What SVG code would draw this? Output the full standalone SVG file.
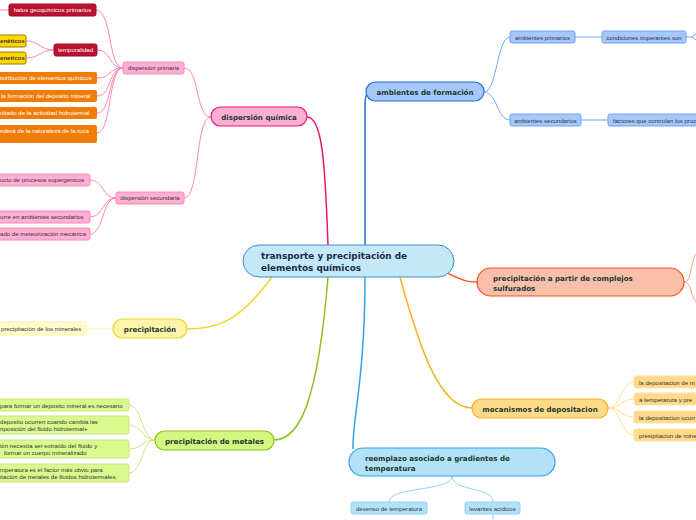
<svg xmlns="http://www.w3.org/2000/svg" width="696" height="520" viewBox="0 0 696 520">
<style>
.main{font-family:"DejaVu Sans",sans-serif;font-weight:bold;font-size:7.1px;fill:#173a2e;}
.cen{font-family:"DejaVu Sans",sans-serif;font-weight:bold;font-size:8.9px;fill:#1b2b4b;}
.s{font-family:"Liberation Sans",Arial,sans-serif;font-size:6.1px;fill:#333;}
.w{font-family:"Liberation Sans",Arial,sans-serif;font-size:6.1px;fill:#fff;}
</style>
<rect width="696" height="520" fill="#fff"/>
<g id="connectors" fill="none">
  <path d="M328,245 C325,160 322,117 307,117" stroke="#e8176e" stroke-width="1.5"/>
  <path d="M365,245 L365,106 Q365,92 370,92" stroke="#2d6fd4" stroke-width="1.5"/>
  <path d="M445,272 C462,280 465,282 478,282" stroke="#f4511e" stroke-width="1.5"/>
  <path d="M400,277 C420,350 440,408 472,408" stroke="#f6b226" stroke-width="1.5"/>
  <path d="M365,277 C365,380 352,420 353,449" stroke="#2ea3e0" stroke-width="1.5"/>
  <path d="M328,277 C318,400 300,440 274,440" stroke="#8ec21d" stroke-width="1.5"/>
  <path d="M272,277 C240,320 220,329 187,329" stroke="#ecd627" stroke-width="1.5"/>
  <g stroke="#ff86b8" stroke-width="1">
    <path d="M211,117 C195,117 200,68 184,68"/>
    <path d="M211,117 C195,117 200,198 184,198"/>
    <path d="M123,68 C108,68 112,10 96,10"/>
    <path d="M123,68 C108,68 112,50 97,50"/>
    <path d="M123,68 C108,68 112,78 97,78"/>
    <path d="M123,68 C108,68 112,96 97,96"/>
    <path d="M123,68 C108,68 112,113 97,113"/>
    <path d="M123,68 C108,68 112,133 97,133"/>
    <path d="M54,50 C40,50 40,41 26,41"/>
    <path d="M54,50 C40,50 40,58 26,58"/>
    <path d="M9,10 L0,10"/>
    <path d="M116,198 C102,198 104,180 90,180"/>
    <path d="M116,198 C102,198 104,217 90,217"/>
    <path d="M116,198 C102,198 104,234 90,234"/>
  </g>
  <g stroke="#6fa3f2" stroke-width="1">
    <path d="M484,92 C497,92 497,37 510,37"/>
    <path d="M484,92 C497,92 497,120 510,120"/>
    <path d="M575,37 L602,37"/>
    <path d="M686,37 L692,37 M692,37 L696,34 M692,37 L696,40"/>
  </g>
  <path d="M581,120 L608,120" stroke="#b3d0fb" stroke-width="2"/>
  <g stroke="#f9a38a" stroke-width="1">
    <path d="M684,282 C692,282 690,262 696,254"/>
    <path d="M684,282 C692,282 690,296 696,302"/>
  </g>
  <g stroke="#ffe08a" stroke-width="1">
    <path d="M608,408 C621,408 621,382 634,382"/>
    <path d="M608,408 C621,408 621,399 634,399"/>
    <path d="M608,408 C621,408 621,417 634,417"/>
    <path d="M608,408 C621,408 621,435 634,435"/>
  </g>
  <g stroke="#8fd3f4" stroke-width="1">
    <path d="M452,476 C452,492 389,486 389,502"/>
    <path d="M452,476 C452,492 493,486 493,502"/>
    <path d="M493,514 L493,520"/>
  </g>
  <path d="M113,329 L86,329" stroke="#fff0a0" stroke-width="1"/>
  <g stroke="#c8e880" stroke-width="1">
    <path d="M155,440 C142,440 142,405 129,405"/>
    <path d="M155,440 C142,440 142,425 129,425"/>
    <path d="M155,440 C142,440 142,449 129,449"/>
    <path d="M155,440 C142,440 142,473 129,473"/>
  </g>
</g>

<g id="central">
  <rect x="243" y="245" width="211" height="32" rx="16" fill="#c5e8f9" stroke="#3a8fd0" stroke-width="1"/>
  <text class="cen" x="261" y="259">transporte y precipitación de</text>
  <text class="cen" x="261" y="271">elementos químicos</text>
</g>

<g id="dispersion-quimica">
  <rect x="211" y="107" width="96" height="19" rx="9.5" fill="#ffafd3" stroke="#e8176e" stroke-width="1.2"/>
  <text class="main" x="259" y="120" text-anchor="middle">dispersión química</text>
</g>
<g id="dispersion-primaria">
  <rect x="123" y="62" width="61" height="12" rx="2" fill="#ffafd3" stroke="#ff86b8"/>
  <text class="s" x="153.5" y="70.2" text-anchor="middle">dispersión primaria</text>
</g>
<g id="dispersion-secundaria">
  <rect x="116" y="192" width="68" height="12" rx="2" fill="#ffafd3" stroke="#ff86b8"/>
  <text class="s" x="150" y="200.2" text-anchor="middle">dispersión secundaria</text>
</g>
<g id="halos">
  <rect x="9" y="4" width="87" height="12" rx="2" fill="#bb1231" stroke="#9a0e27"/>
  <text class="w" x="52.5" y="12.2" text-anchor="middle">halos  geoquímicos primarios</text>
</g>
<g id="temporalidad">
  <rect x="54" y="44" width="43" height="12" rx="2" fill="#bb1231" stroke="#9a0e27"/>
  <text class="w" x="75.5" y="52.2" text-anchor="middle">temporalidad</text>
</g>
<g id="singeneticos">
  <rect x="-10" y="35" width="36" height="12" rx="2" fill="#ffd600" stroke="#8f8000"/>
  <text class="s" x="0" y="43.2" style="font-weight:bold">enéticos</text>
</g>
<g id="epigeneticos">
  <rect x="-10" y="52" width="36" height="12" rx="2" fill="#ffd600" stroke="#8f8000"/>
  <text class="s" x="0" y="60.2" style="font-weight:bold">eneticos</text>
</g>
<g id="distribucion">
  <rect x="-10" y="72" width="107" height="12" rx="2" fill="#f07d0a"/>
  <text class="w" x="0" y="80.2">istribución de elementos químicos</text>
</g>
<g id="formacion">
  <rect x="-10" y="90" width="107" height="12" rx="2" fill="#f07d0a"/>
  <text class="w" x="1" y="98.2">la formación del deposito mineral</text>
</g>
<g id="actividad">
  <rect x="-10" y="107" width="107" height="12" rx="2" fill="#f07d0a"/>
  <text class="w" x="0" y="115.2">ultado de la actividad hidrotermal</text>
</g>
<g id="naturaleza">
  <rect x="-10" y="125" width="107" height="18" rx="2" fill="#f07d0a"/>
  <text class="w" x="0" y="133">nderá de la naturaleza de la roca</text>
</g>
<g id="supergenicos">
  <rect x="-10" y="174" width="100" height="12" rx="2" fill="#ffafd3" stroke="#ff86b8"/>
  <text class="s" x="0" y="182.2">ucto de procesos supergenicos</text>
</g>
<g id="ambientes-sec">
  <rect x="-10" y="211" width="100" height="12" rx="2" fill="#ffafd3" stroke="#ff86b8"/>
  <text class="s" x="0" y="219.2">urre en ambientes secundarios</text>
</g>
<g id="meteorizacion">
  <rect x="-10" y="228" width="100" height="12" rx="2" fill="#ffafd3" stroke="#ff86b8"/>
  <text class="s" x="0" y="236.2">ado de meteorización mecánica</text>
</g>

<g id="ambientes-formacion">
  <rect x="366" y="82" width="118" height="19" rx="9.5" fill="#a4c8fb" stroke="#2d6fd4" stroke-width="1.2"/>
  <text class="main" x="425" y="95" text-anchor="middle">ambientes de formación</text>
</g>
<g id="ambientes-primarios">
  <rect x="510" y="31" width="65" height="12" rx="2" fill="#a4c8fb" stroke="#6fa3f2"/>
  <text class="s" x="542.5" y="39.5" text-anchor="middle">ambientes primarios</text>
</g>
<g id="condiciones">
  <rect x="602" y="31" width="84" height="12" rx="2" fill="#a4c8fb" stroke="#6fa3f2"/>
  <text class="s" x="644" y="39.5" text-anchor="middle">condiciones imperantes son</text>
</g>
<g id="ambientes-secundarios">
  <rect x="510" y="114" width="71" height="12" rx="2" fill="#a4c8fb" stroke="#6fa3f2"/>
  <text class="s" x="545.5" y="122.5" text-anchor="middle">ambientes secundarios</text>
</g>
<g id="factores">
  <rect x="608" y="114" width="100" height="12" rx="2" fill="#a4c8fb" stroke="#6fa3f2"/>
  <text class="s" x="613" y="122.5">factores que controlan los proc</text>
</g>

<g id="precipitacion-complejos">
  <rect x="477" y="268" width="207" height="28" rx="14" fill="#f9bfab" stroke="#f4511e" stroke-width="1.2"/>
  <text class="main" x="493" y="281">precipitación a partir de complejos</text>
  <text class="main" x="493" y="291">sulfurados</text>
</g>

<g id="mecanismos">
  <rect x="472" y="399" width="136" height="19" rx="9.5" fill="#ffd98a" stroke="#f6b226" stroke-width="1.2"/>
  <text class="main" x="540" y="412" text-anchor="middle">mecanismos de depositacion</text>
</g>
<g id="mec1">
  <rect x="634" y="376" width="70" height="12" rx="2" fill="#ffd98a" stroke="#ffe3a0"/>
  <text class="s" x="639" y="384.5">la depositacion de m</text>
</g>
<g id="mec2">
  <rect x="634" y="393" width="70" height="12" rx="2" fill="#ffd98a" stroke="#ffe3a0"/>
  <text class="s" x="639" y="401.5">a temperatura y pre</text>
</g>
<g id="mec3">
  <rect x="634" y="411" width="70" height="12" rx="2" fill="#ffd98a" stroke="#ffe3a0"/>
  <text class="s" x="639" y="419.5">la depositacion ocurr</text>
</g>
<g id="mec4">
  <rect x="634" y="429" width="70" height="12" rx="2" fill="#ffd98a" stroke="#ffe3a0"/>
  <text class="s" x="639" y="437.5">presipitacion de mine</text>
</g>

<g id="reemplazo">
  <rect x="349" y="448" width="206" height="28" rx="14" fill="#b3e2f8" stroke="#2ea3e0" stroke-width="1.2"/>
  <text class="main" x="365" y="461">reemplazo asociado a gradientes de</text>
  <text class="main" x="365" y="471">temperatura</text>
</g>
<g id="desenso">
  <rect x="351" y="502" width="76" height="12" rx="2" fill="#b3e2f8" stroke="#8fd3f4"/>
  <text class="s" x="389" y="510.5" text-anchor="middle">desenso de temperatura</text>
</g>
<g id="levantes">
  <rect x="465" y="502" width="55" height="12" rx="2" fill="#b3e2f8" stroke="#8fd3f4"/>
  <text class="s" x="492.5" y="510.5" text-anchor="middle">levantes acidicos</text>
</g>

<g id="precipitacion">
  <rect x="113" y="319" width="74" height="19" rx="9.5" fill="#fff5aa" stroke="#ecd627" stroke-width="1.2"/>
  <text class="main" x="150" y="332" text-anchor="middle">precipitación</text>
</g>
<g id="precipitacion-minerales">
  <rect x="-10" y="322" width="96" height="13" rx="2" fill="#fffbcf" stroke="#fff0a0"/>
  <text class="s" x="1" y="330.7">precipitación de los minerales</text>
</g>

<g id="precipitacion-metales">
  <rect x="155" y="431" width="119" height="19" rx="9.5" fill="#d3f77f" stroke="#8ec21d" stroke-width="1.2"/>
  <text class="main" x="214.5" y="444" text-anchor="middle">precipitación de metales</text>
</g>
<g id="met1">
  <rect x="-10" y="399" width="139" height="12" rx="2" fill="#d9f98e" stroke="#c8e880"/>
  <text class="s" x="0" y="407.5">para formar un deposito mineral es necesario</text>
</g>
<g id="met2">
  <rect x="-10" y="416" width="139" height="18" rx="2" fill="#d9f98e" stroke="#c8e880"/>
  <text class="s" x="0" y="423.5">deposito ocurren cuando cambia las</text>
  <text class="s" x="0" y="431">nposición del fluido hidrotermal+</text>
</g>
<g id="met3">
  <rect x="-10" y="440" width="139" height="18" rx="2" fill="#d9f98e" stroke="#c8e880"/>
  <text class="s" x="0" y="447.5">ión necesita ser extraído del fluido y</text>
  <text class="s" x="4" y="455">formar un cuerpo mineralizado</text>
</g>
<g id="met4">
  <rect x="-10" y="464" width="139" height="18" rx="2" fill="#d9f98e" stroke="#c8e880"/>
  <text class="s" x="0" y="471.5">mperatura es el factor más obvio para</text>
  <text class="s" x="0" y="479">itación de metales de fluidos hidrotermales.</text>
</g>
</svg>
